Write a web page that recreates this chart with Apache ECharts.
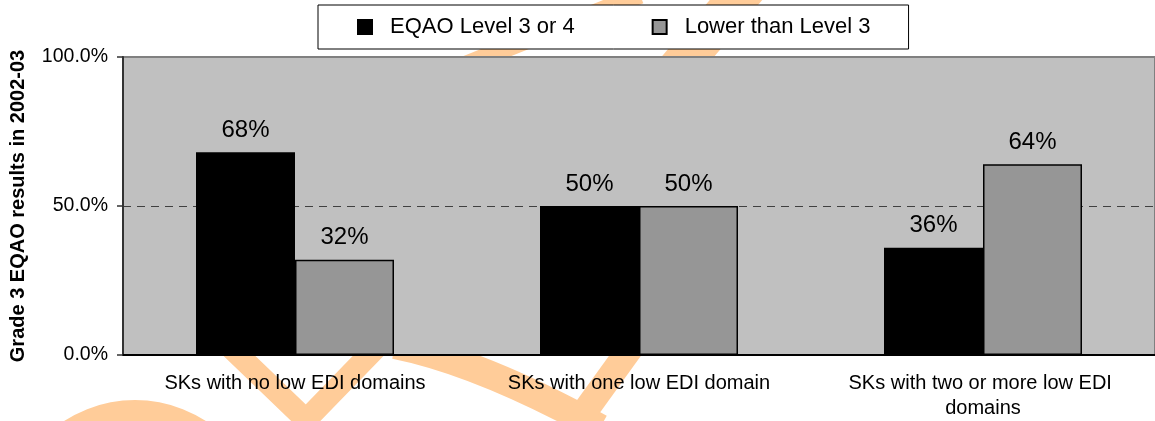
<!DOCTYPE html>
<html><head><meta charset="utf-8">
<script src="https://cdn.jsdelivr.net/npm/echarts@6/dist/echarts.min.js"></script>
<style>html,body{margin:0;padding:0;background:#fff}#c{width:1155px;height:421px}</style>
</head><body><div id="c"></div>
<script>
const categories = ['SKs with no low EDI domains', 'SKs with one low EDI domain', 'SKs with two or more low EDI domains'];
const seriesNames = ['EQAO Level 3 or 4', 'Lower than Level 3'];
const level3or4 = [68, 50, 36];
const lowerThan3 = [32, 50, 64];
const yTicks = [0, 50, 100];
const yAxisTitle = 'Grade 3 EQAO results in 2002-03';

const wm = '#FFCC99';
const font = 'Liberation Sans, Arial, sans-serif';
const chart = echarts.init(document.getElementById('c'), null, {renderer: 'canvas'});
chart.setOption({
  animation: false,
  textStyle: {fontFamily: font, color: '#000'},
  graphic: {
    zlevel: 0,
    elements: [
      {type: 'polyline', zlevel: 0, shape: {points: [[200, 318], [306, 420], [405, 318]]}, style: {stroke: wm, lineWidth: 22, fill: null}},
      {type: 'arc', zlevel: 0, shape: {cx: 135, cy: 530, r: 118, startAngle: Math.PI, endAngle: 2 * Math.PI}, style: {stroke: wm, lineWidth: 24, fill: null}},
      {type: 'bezierCurve', zlevel: 0, shape: {x1: 395, y1: 345, x2: 600, y2: 428, cpx1: 480, cpy1: 362}, style: {stroke: wm, lineWidth: 28, fill: null}},
      {type: 'line', zlevel: 0, shape: {x1: 640, y1: 335, x2: 575, y2: 425}, style: {stroke: wm, lineWidth: 26}},
      {type: 'line', zlevel: 0, shape: {x1: 440, y1: 75, x2: 640, y2: -5}, style: {stroke: wm, lineWidth: 18}},
      {type: 'line', zlevel: 0, shape: {x1: 646, y1: 106, x2: 781, y2: -53}, style: {stroke: wm, lineWidth: 40}}
    ]
  },
  legend: {
    zlevel: 1,
    left: 318, top: 5,
    padding: [11, 38, 11, 39],
    itemGap: 77, itemWidth: 14, itemHeight: 14,
    icon: 'rect',
    backgroundColor: '#fff', borderColor: '#000', borderWidth: 1,
    textStyle: {fontSize: 22, fontFamily: font, color: '#000', padding: [0, 0, 0, 13]},
    data: seriesNames
  },
  grid: {zlevel: 1, left: 123, top: 57, right: -6, bottom: 66, show: true, backgroundColor: '#C0C0C0', borderColor: '#808080', borderWidth: 2},
  xAxis: {
    zlevel: 1,
    type: 'category', data: categories,
    axisLine: {lineStyle: {color: '#000', width: 2}},
    axisTick: {show: false},
    axisLabel: {fontSize: 20, color: '#000', margin: 16, width: 300, overflow: 'break', lineHeight: 25, interval: 0}
  },
  yAxis: {
    zlevel: 1,
    type: 'value', min: yTicks[0], max: yTicks[yTicks.length - 1], interval: yTicks[1] - yTicks[0],
    name: yAxisTitle, nameLocation: 'middle', nameGap: 95,
    nameTextStyle: {fontSize: 20, fontWeight: 'bold', color: '#000'},
    axisLine: {show: true, lineStyle: {color: '#333', width: 2}},
    axisTick: {show: true, length: 6, lineStyle: {color: '#333', width: 1.5}},
    axisLabel: {fontSize: 19.5, color: '#000', margin: 15, formatter: v => v.toFixed(1) + '%'},
    splitLine: {show: true, lineStyle: {color: ['rgba(0,0,0,0)', '#404040', 'rgba(0,0,0,0)'], type: [8, 6], width: 1}}
  },
  series: [
    {zlevel: 1, name: seriesNames[0], type: 'bar', data: level3or4, barWidth: 99, barGap: '0%',
     itemStyle: {color: '#000', borderColor: '#000', borderWidth: 1.5},
     label: {show: true, position: 'top', distance: 10, fontSize: 24, color: '#000', formatter: p => p.value + '%'}},
    {zlevel: 1, name: seriesNames[1], type: 'bar', data: lowerThan3, barWidth: 99, barGap: '0%',
     itemStyle: {color: '#969696', borderColor: '#000', borderWidth: 1.5},
     label: {show: true, position: 'top', distance: 10, fontSize: 24, color: '#000', formatter: p => p.value + '%'}}
  ]
});
</script></body></html>
